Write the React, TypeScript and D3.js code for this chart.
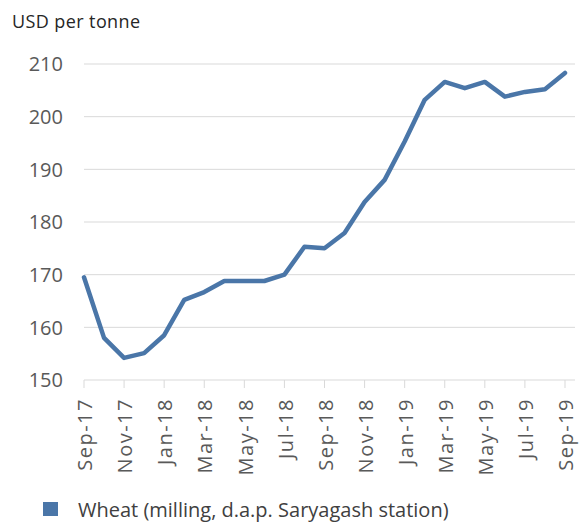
import React from "react";
import * as d3 from "d3";

const months = [
  "Sep-17","Oct-17","Nov-17","Dec-17","Jan-18","Feb-18","Mar-18","Apr-18","May-18","Jun-18","Jul-18","Aug-18",
  "Sep-18","Oct-18","Nov-18","Dec-18","Jan-19","Feb-19","Mar-19","Apr-19","May-19","Jun-19","Jul-19","Aug-19","Sep-19",
];
const wheat = [
  169.5, 158, 154.2, 155.1, 158.5, 165.2, 166.7, 168.8, 168.8, 168.8, 170, 175.3,
  175, 177.9, 183.8, 188, 195.3, 203.2, 206.6, 205.4, 206.6, 203.8, 204.7, 205.2, 208.3,
];
const yTicks = [150, 160, 170, 180, 190, 200, 210];
const seriesName = "Wheat (milling, d.a.p. Saryagash station)";
const unitLabel = "USD per tonne";

const W = 587, H = 522;
const font = "'Open Sans', sans-serif";
const color = "#4a76a8";

export default function App() {
  const x = d3.scalePoint<string>().domain(months).range([84, 565]);
  const y = d3.scaleLinear().domain([150, 210]).range([380, 64]);
  const line = d3.line<number>().x((_, i) => x(months[i])!).y((d) => y(d));
  const labelMonths = months.filter((_, i) => i % 2 === 0);
  return (
    <svg width={W} height={H} style={{ position: "absolute", left: 0, top: 0, background: "#fff" }}>
      <text x={12} y={28} fontFamily={font} fontSize={18} letterSpacing={0.4} fill="#262626">{unitLabel}</text>
      {yTicks.map((t) => (
        <g key={t}>
          <line x1={84} x2={575} y1={y(t)} y2={y(t)} stroke="#d9d9d9" strokeWidth={1} />
          <text x={63} y={y(t)} dy="0.36em" textAnchor="end" fontFamily={font} fontSize={20} fill="#595959">{t}</text>
        </g>
      ))}
      {labelMonths.map((m) => (
        <g key={m}>
          <line x1={x(m)} x2={x(m)} y1={y(150)} y2={y(150) + 8} stroke="#d9d9d9" />
          <text transform={`translate(${x(m)! + 1},${y(150) + 18}) rotate(-90)`} textAnchor="end" dy="0.36em"
            fontFamily={font} fontSize={20} letterSpacing={1.5} fill="#595959">{m}</text>
        </g>
      ))}
      <path d={line(wheat)!} fill="none" stroke={color} strokeWidth={4.5} strokeLinejoin="round" strokeLinecap="round" />
      <rect x={43} y={502} width={15} height={14} fill={color} />
      <text x={78} y={517} fontFamily={font} fontSize={20} fill="#404040">{seriesName}</text>
    </svg>
  );
}
